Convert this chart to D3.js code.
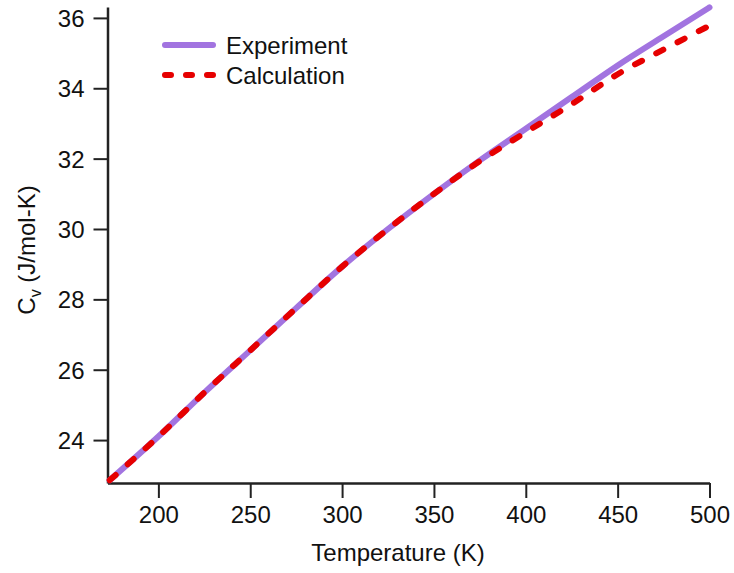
<!DOCTYPE html>
<html>
<head>
<meta charset="utf-8">
<script src="https://cdn.jsdelivr.net/npm/d3@7"></script>
<style>
  body { margin: 0; background: #fff; }
  svg { font-family: "Liberation Sans", Arial, sans-serif; }
</style>
</head>
<body>
<svg id="chart" width="734" height="573"></svg>
<script>
// temperatures (K) and heat capacity (J/mol-K)
var temps    = [173.5, 200, 225, 250, 275, 300, 325, 350, 375, 400, 425, 450, 475, 500];
var expCv    = [22.86, 24.1, 25.35, 26.55, 27.75, 28.93, 30.0, 31.0, 31.95, 32.85, 33.75, 34.65, 35.48, 36.3];
var calcCv   = [22.86, 24.1, 25.35, 26.55, 27.75, 28.93, 30.0, 31.0, 31.93, 32.75, 33.55, 34.4, 35.1, 35.78];
var xTicks   = [200, 250, 300, 350, 400, 450, 500];
var yTicks   = [24, 26, 28, 30, 32, 34, 36];
var seriesNames = ["Experiment", "Calculation"];

var svg = d3.select("#chart");

var x = d3.scaleLinear().domain([172.3, 500]).range([107.5, 709.5]);
var y = d3.scaleLinear().domain([22.78, 36.31]).range([483, 7]);

// axes
var xAxis = svg.append("g")
    .attr("transform", "translate(0,483)")
    .call(d3.axisBottom(x).tickValues(xTicks).tickSize(15).tickPadding(8).tickSizeOuter(0));
var yAxis = svg.append("g")
    .attr("transform", "translate(107.5,0)")
    .call(d3.axisLeft(y).tickValues(yTicks).tickSize(14).tickPadding(9).tickSizeOuter(0));

[xAxis, yAxis].forEach(function(a) {
  a.select(".domain").attr("stroke", "#222").attr("stroke-width", 2.5);
  a.selectAll(".tick line").attr("stroke", "#222").attr("stroke-width", 2);
  a.selectAll(".tick text").attr("fill", "#111")
      .style("font-size", "24px").style("font-family", "Liberation Sans, Arial, sans-serif");
});
yAxis.selectAll(".tick text").attr("dy", "0.36em");

// axis titles
svg.append("text")
    .attr("x", 398).attr("y", 561)
    .attr("text-anchor", "middle")
    .style("font-size", "24px").attr("fill", "#111")
    .text("Temperature (K)");

var yt = svg.append("text")
    .attr("transform", "translate(35,250) rotate(-90)")
    .attr("text-anchor", "middle")
    .style("font-size", "24px").attr("fill", "#111");
yt.append("tspan").text("C");
yt.append("tspan").attr("dy", 6).style("font-size", "16px").text("v");
yt.append("tspan").attr("dy", -6).text(" (J/mol-K)");

// lines
var line = function(vals) {
  return d3.line()
      .x(function(d, i) { return x(temps[i]); })
      .y(function(d) { return y(d); })
      .curve(d3.curveMonotoneX)(vals);
};

svg.append("path")
    .attr("d", line(expCv))
    .attr("fill", "none")
    .attr("stroke", "#a274e0")
    .attr("stroke-width", 6)
    .attr("stroke-linecap", "round");

svg.append("path")
    .attr("d", line(calcCv))
    .attr("fill", "none")
    .attr("stroke", "#e60000")
    .attr("stroke-width", 6)
    .attr("stroke-linecap", "round")
    .attr("stroke-dasharray", "8,16");

// legend
var legend = svg.append("g");
legend.append("line")
    .attr("x1", 165).attr("x2", 213).attr("y1", 45).attr("y2", 45)
    .attr("stroke", "#a274e0").attr("stroke-width", 6).attr("stroke-linecap", "round");
legend.append("line")
    .attr("x1", 165).attr("x2", 213).attr("y1", 75).attr("y2", 75)
    .attr("stroke", "#e60000").attr("stroke-width", 6).attr("stroke-linecap", "round")
    .attr("stroke-dasharray", "6,15");
legend.selectAll("text.lab")
    .data(seriesNames)
  .enter().append("text")
    .attr("class", "lab")
    .attr("x", 226)
    .attr("y", function(d, i) { return 54 + i * 30; })
    .style("font-size", "24px").attr("fill", "#111")
    .text(function(d) { return d; });
</script>
</body>
</html>
